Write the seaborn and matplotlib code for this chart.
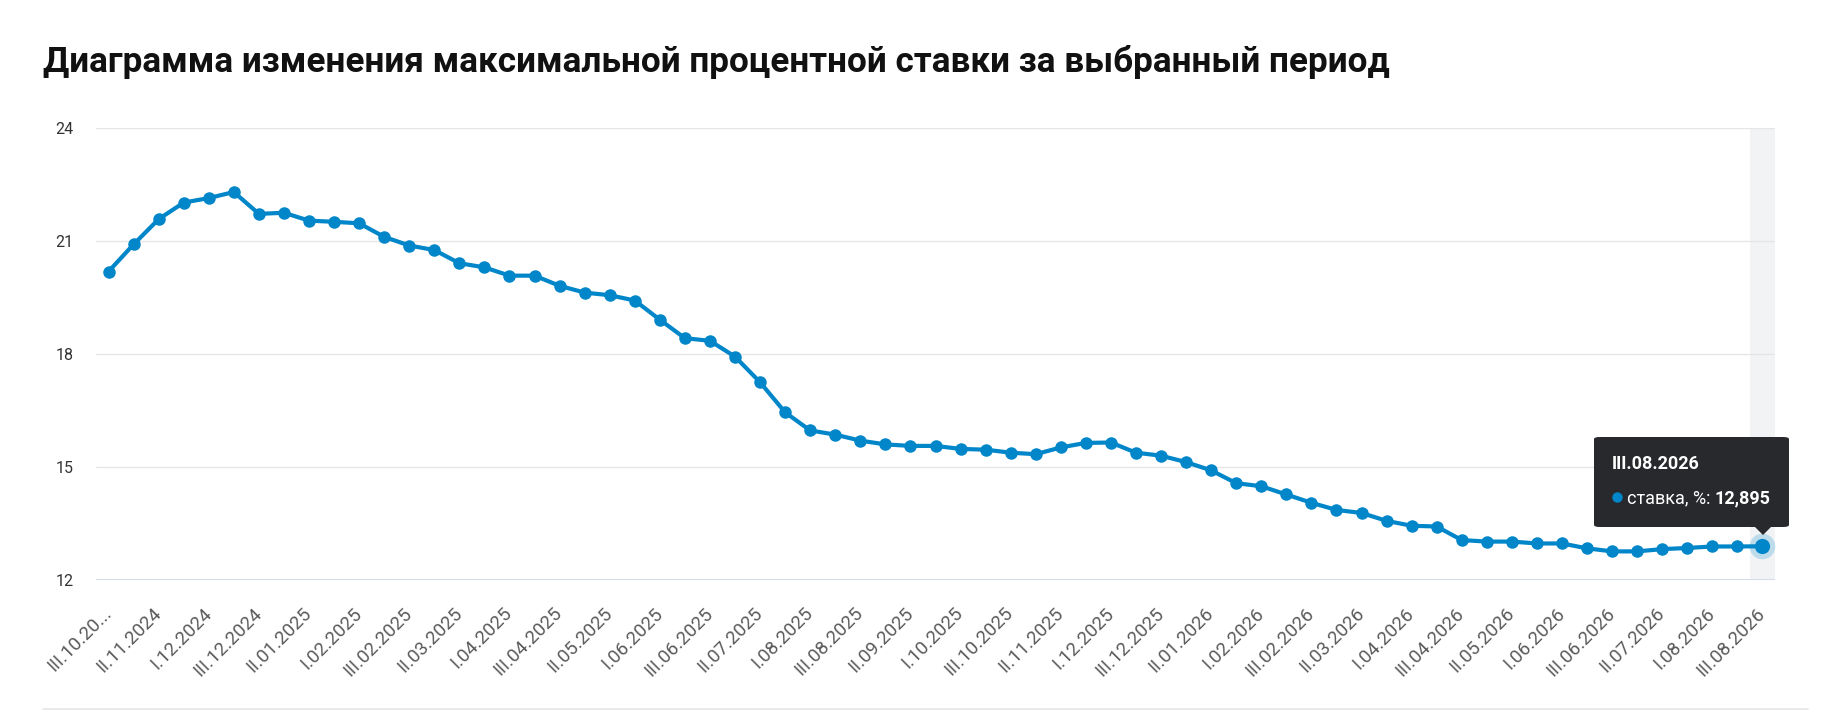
import matplotlib
matplotlib.use('Agg')
import numpy as np
import pandas as pd
import matplotlib.pyplot as plt
import seaborn as sns
from matplotlib.patches import FancyBboxPatch, Polygon
from matplotlib.lines import Line2D

# maximum rate, %, one point per decade (III.10.2024 ... III.08.2026)
rates = [20.19, 20.91, 21.58, 22.02, 22.14, 22.30, 21.72, 21.75, 21.54, 21.51,
         21.47, 21.11, 20.88, 20.76, 20.41, 20.30, 20.08, 20.08, 19.81, 19.63,
         19.56, 19.42, 18.91, 18.42, 18.35, 17.93, 17.25, 16.45, 15.97, 15.86,
         15.70, 15.60, 15.56, 15.56, 15.48, 15.46, 15.38, 15.34, 15.52, 15.64,
         15.65, 15.38, 15.30, 15.13, 14.91, 14.57, 14.49, 14.27, 14.05, 13.86,
         13.78, 13.57, 13.44, 13.42, 13.06, 13.02, 13.02, 12.97, 12.97, 12.84,
         12.76, 12.76, 12.82, 12.85, 12.89, 12.89, 12.895]

# every second decade gets a label
tick_labels = ['III.10.20...', 'II.11.2024', 'I.12.2024', 'III.12.2024', 'II.01.2025',
               'I.02.2025', 'III.02.2025', 'II.03.2025', 'I.04.2025', 'III.04.2025',
               'II.05.2025', 'I.06.2025', 'III.06.2025', 'II.07.2025', 'I.08.2025',
               'III.08.2025', 'II.09.2025', 'I.10.2025', 'III.10.2025', 'II.11.2025',
               'I.12.2025', 'III.12.2025', 'II.01.2026', 'I.02.2026', 'III.02.2026',
               'II.03.2026', 'I.04.2026', 'III.04.2026', 'II.05.2026', 'I.06.2026',
               'III.06.2026', 'II.07.2026', 'I.08.2026', 'III.08.2026']
y_ticks = [12, 15, 18, 21, 24]

title = 'Диаграмма изменения максимальной процентной ставки за выбранный период'
tooltip_period = 'III.08.2026'
tooltip_series = 'ставка, %: '
tooltip_value = '12,895'

W, H = 1829, 715
BLUE = '#0086c9'

def px(x, y):
    # pixel position (from top-left) -> figure fraction
    return x / W, 1 - y / H

sns.set_theme(style='white')
plt.rcParams['font.family'] = ['Roboto', 'DejaVu Sans']

df = pd.DataFrame({'idx': np.arange(len(rates)), 'rate': rates})

fig = plt.figure(figsize=(W / 100, H / 100), dpi=100)
fig.patch.set_facecolor('white')
ax = fig.add_axes([96 / W, 1 - 580 / H, (1775 - 96) / W, (580 - 128) / H])

# hover band on the last category
ax.axvspan(df['idx'].iloc[-1] - 0.5, df['idx'].iloc[-1] + 0.5, color='#f2f3f5', zorder=0, lw=0)

for v in y_ticks[1:]:
    ax.axhline(v, color='#e6e6e6', lw=1, zorder=1)
ax.axhline(y_ticks[0], color='#ccd6eb', lw=1.2, zorder=1)

sns.lineplot(data=df, x='idx', y='rate', ax=ax, color=BLUE, linewidth=3,
             marker='o', markersize=9, markeredgewidth=0, zorder=3)

# highlighted last point with halo
ax.scatter(df['idx'].iloc[-1:], df['rate'].iloc[-1:], s=340, color=BLUE, alpha=0.22, lw=0, zorder=4)
ax.scatter(df['idx'].iloc[-1:], df['rate'].iloc[-1:], s=120, color=BLUE, lw=0, zorder=5)

ax.set_xlim(-0.5, len(rates) - 0.5)
ax.set_ylim(y_ticks[0], y_ticks[-1])
ax.set_yticks(y_ticks)
ax.set_yticklabels([str(v) for v in y_ticks])
ax.set_xticks(df['idx'][::2])
ax.set_xticklabels(tick_labels, rotation=45, ha='right', va='center', rotation_mode='anchor')
ax.tick_params(axis='x', length=0, pad=22, labelsize=13.5, labelcolor='#5a5a5a')
ax.tick_params(axis='y', length=0, pad=16, labelsize=11.5, labelcolor='#333333')
ax.set_xlabel('')
ax.set_ylabel('')
for s in ax.spines.values():
    s.set_visible(False)

# title
tx, ty = px(43, 72)
fig.text(tx, ty, title, fontsize=25.3, fontweight='bold', color='#111111', va='baseline', ha='left')

# bottom separator
fig.add_artist(Line2D([43 / W, 1808 / W], [1 - 709 / H] * 2, color='#e6e6e6', lw=1.2))

# tooltip
bx, by = px(1594, 527)
box = FancyBboxPatch((bx, by), (1789 - 1594) / W, (527 - 437) / H,
                     boxstyle='round,pad=0,rounding_size=0.003', transform=fig.transFigure,
                     facecolor='#28292d', edgecolor='none', zorder=10)
fig.add_artist(box)
fig.add_artist(Polygon([px(1754, 526), px(1772, 526), px(1763, 535)], closed=True,
                       transform=fig.transFigure, facecolor='#28292d', edgecolor='none', zorder=10))
t1 = px(1612, 464)
fig.text(t1[0], t1[1], tooltip_period, fontsize=13, fontweight='bold', color='white',
         va='center', zorder=11)
d = px(1617, 497)
fig.add_artist(Line2D([d[0]], [d[1]], marker='o', markersize=7.5, color=BLUE, mec='none', zorder=11))
t2 = px(1627, 498)
series_txt = fig.text(t2[0], t2[1], tooltip_series, fontsize=13, color='white', va='center', zorder=11)
renderer = fig.canvas.get_renderer()
bb = series_txt.get_window_extent(renderer=renderer)
fig.text(bb.x1 / W, t2[1], tooltip_value, fontsize=13, fontweight='bold', color='white',
         va='center', zorder=11)

fig.savefig('out.png', dpi=100)
